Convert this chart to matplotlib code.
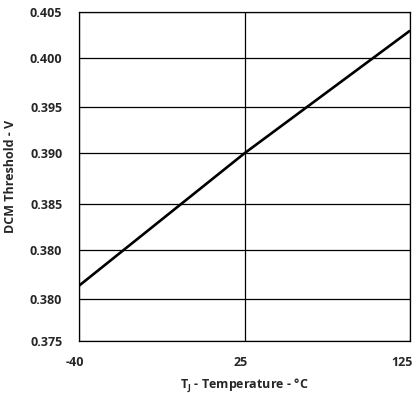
import matplotlib
matplotlib.use("Agg")
import matplotlib.pyplot as plt
from matplotlib.transforms import ScaledTranslation

# data (x axis is categorical: evenly spaced temps)
temps = ["-40", "25", "125"]
threshold = [0.38004, 0.39212, 0.40330]

y_ticks = [0.405, 0.40081, 0.39634, 0.39214, 0.38749, 0.38330, 0.37883, 0.375]
y_labels = ["0.405", "0.400", "0.395", "0.390", "0.385", "0.380", "0.380", "0.375"]

plt.rcParams["font.family"] = ["Open Sans", "DejaVu Sans"]
plt.rcParams["font.weight"] = "bold"
plt.rcParams["mathtext.fontset"] = "custom"
plt.rcParams["mathtext.rm"] = "Open Sans:bold"
plt.rcParams["mathtext.it"] = "Open Sans:bold"
plt.rcParams["mathtext.bf"] = "Open Sans:bold"


def main():
    fig = plt.figure(figsize=(4.18, 3.93), dpi=100)
    ax = fig.add_axes([0.189, 0.1323, 0.792, 0.8372])

    pos = list(range(len(temps)))
    ax.plot(pos, threshold, color="black", linewidth=1.9, solid_capstyle="butt")

    ax.set_xlim(pos[0], pos[-1])
    ax.set_ylim(0.375, 0.405)
    ax.set_xticks(pos)
    ax.set_xticklabels(temps)
    ax.set_yticks(y_ticks)
    ax.set_yticklabels(y_labels)
    ax.tick_params(axis="both", length=0, labelsize=9, colors="#262626")
    ax.tick_params(axis="x", pad=11)
    ax.tick_params(axis="y", pad=12)
    ax.grid(True, color="black", linewidth=0.9)
    for s in ax.spines.values():
        s.set_linewidth(0.9)

    # tick labels sit a little left of their gridlines in the reference
    shift = ScaledTranslation(-3 / 72, 0, fig.dpi_scale_trans)
    for lab in ax.get_xticklabels():
        lab.set_transform(lab.get_transform() + shift)
    ax.get_xticklabels()[-1].set_transform(ax.get_xticklabels()[-1].get_transform()
                                           + ScaledTranslation(-3 / 72, 0, fig.dpi_scale_trans))

    ax.set_xlabel(r"T$_\mathrm{J}$ - Temperature - °C", fontsize=9, fontweight="bold",
                  color="#262626", labelpad=5)
    ax.set_ylabel("DCM Threshold - V", fontsize=9, fontweight="bold",
                  color="#262626", labelpad=9)

    fig.savefig("out.png", dpi=100)


if __name__ == "__main__":
    main()
